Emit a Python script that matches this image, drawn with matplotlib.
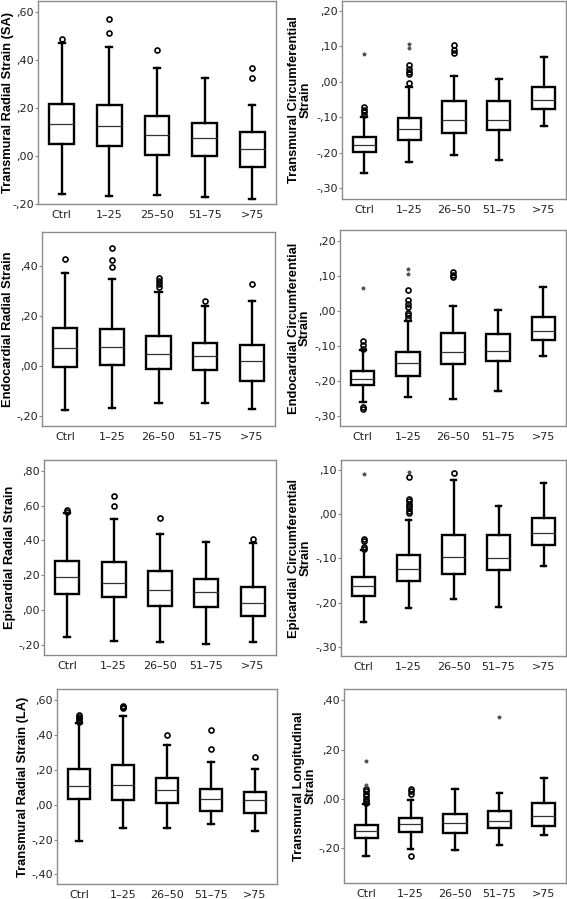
import matplotlib.pyplot as plt
from matplotlib.ticker import FuncFormatter

plt.rcParams['font.family'] = ['DejaVu Sans']

cats_sa = ["Ctrl", "1–25", "25–50", "51–75", ">75"]
cats = ["Ctrl", "1–25", "26–50", "51–75", ">75"]

# each group: (whisker low, Q1, median, Q3, whisker high)
trans_sa_box = [(-0.157, 0.049, 0.133, 0.218, 0.472), (-0.167, 0.044, 0.126, 0.215, 0.456),
                (-0.164, 0.004, 0.089, 0.169, 0.368), (-0.169, 0.001, 0.074, 0.136, 0.325),
                (-0.178, -0.044, 0.031, 0.100, 0.211)]
trans_sa_out = [[0.49], [0.571, 0.515], [0.444], [], [0.367, 0.326]]
trans_sa_ext = [[], [], [], [], []]

trans_circ_box = [(-0.257, -0.197, -0.178, -0.155, -0.099), (-0.227, -0.164, -0.133, -0.101, -0.014),
                  (-0.207, -0.144, -0.108, -0.053, 0.018), (-0.219, -0.136, -0.106, -0.055, 0.009),
                  (-0.123, -0.075, -0.051, -0.014, 0.070)]
trans_circ_out = [[-0.070, -0.078, -0.086, -0.093], [-0.003, 0.021, 0.028, 0.037, 0.049],
                  [0.082, 0.091, 0.103], [], []]
trans_circ_ext = [[0.080], [0.096, 0.108], [], [], []]

endo_rad_box = [(-0.177, -0.003, 0.074, 0.151, 0.372), (-0.167, 0.003, 0.076, 0.150, 0.350),
                (-0.146, -0.012, 0.047, 0.122, 0.295), (-0.147, -0.015, 0.042, 0.092, 0.241),
                (-0.173, -0.058, 0.021, 0.084, 0.262)]
endo_rad_out = [[0.428], [0.471, 0.425, 0.395], [0.354, 0.340, 0.328, 0.317], [0.262], [0.328]]
endo_rad_ext = [[], [], [], [], []]

endo_circ_box = [(-0.259, -0.211, -0.193, -0.171, -0.110), (-0.245, -0.184, -0.147, -0.118, -0.029),
                 (-0.251, -0.150, -0.118, -0.063, 0.013), (-0.227, -0.141, -0.114, -0.066, 0.003),
                 (-0.127, -0.082, -0.056, -0.018, 0.069)]
endo_circ_out = [[-0.086, -0.096, -0.107, -0.272, -0.279],
                 [0.060, 0.030, 0.021, 0.011, -0.005, -0.012, -0.020],
                 [0.110, 0.102, 0.096], [], []]
endo_circ_ext = [[0.064], [0.106, 0.118], [], [], []]

epi_rad_box = [(-0.153, 0.092, 0.189, 0.284, 0.559), (-0.176, 0.078, 0.156, 0.277, 0.521),
               (-0.179, 0.025, 0.118, 0.223, 0.435), (-0.195, 0.017, 0.103, 0.181, 0.393),
               (-0.179, -0.031, 0.044, 0.135, 0.384)]
epi_rad_out = [[0.574, 0.563], [0.656, 0.597], [0.529], [], [0.410]]
epi_rad_ext = [[], [], [], [], []]

epi_circ_box = [(-0.243, -0.185, -0.163, -0.142, -0.081), (-0.212, -0.151, -0.125, -0.092, -0.013),
                (-0.191, -0.136, -0.096, -0.048, 0.077), (-0.209, -0.126, -0.098, -0.046, 0.018),
                (-0.118, -0.069, -0.042, -0.008, 0.070)]
epi_circ_out = [[-0.055, -0.060, -0.073, -0.078],
                [0.084, 0.035, 0.030, 0.024, 0.019, 0.014, 0.008, 0.002],
                [0.094], [], []]
epi_circ_ext = [[0.092], [0.095], [], [], []]

trans_la_box = [(-0.207, 0.031, 0.107, 0.203, 0.468), (-0.136, 0.029, 0.111, 0.226, 0.510),
                (-0.136, 0.008, 0.084, 0.153, 0.340), (-0.109, -0.034, 0.031, 0.092, 0.247),
                (-0.153, -0.048, 0.025, 0.073, 0.207)]
trans_la_out = [[0.514, 0.505, 0.495, 0.484, 0.475], [0.568, 0.560, 0.553], [0.400],
                [0.430, 0.321], [0.275]]
trans_la_ext = [[], [], [], [], []]

long_box = [(-0.232, -0.156, -0.128, -0.104, -0.022), (-0.201, -0.133, -0.102, -0.078, -0.003),
            (-0.206, -0.139, -0.098, -0.059, 0.042), (-0.186, -0.117, -0.088, -0.049, 0.026),
            (-0.144, -0.108, -0.067, -0.015, 0.086)]
long_out = [[0.040, 0.031, 0.020, 0.011, 0.000, -0.009, -0.016], [0.040, 0.031, 0.020, -0.229],
            [], [], []]
long_ext = [[0.155, 0.058], [], [], [0.330], []]

# label, box, outliers, extremes, categories, ylim, yticks, axes rect (px: l, t, r, b), label x
panels = [
    ("Transmural Radial Strain (SA)", trans_sa_box, trans_sa_out, trans_sa_ext, cats_sa,
     (-0.2, 0.647), [-0.2, 0.0, 0.2, 0.4, 0.6], (38, 1, 276, 204), -0.126),
    ("Transmural Circumferential\nStrain", trans_circ_box, trans_circ_out, trans_circ_ext, cats,
     (-0.33, 0.228), [-0.3, -0.2, -0.1, 0.0, 0.1, 0.2], (342, 1, 566, 199), -0.19),
    ("Endocardial Radial Strain", endo_rad_box, endo_rad_out, endo_rad_ext, cats,
     (-0.24, 0.537), [-0.2, 0.0, 0.2, 0.4], (42, 232, 275, 426), -0.146),
    ("Endocardial Circumferential\nStrain", endo_circ_box, endo_circ_out, endo_circ_ext, cats,
     (-0.327, 0.23), [-0.3, -0.2, -0.1, 0.0, 0.1, 0.2], (340, 230, 566, 426), -0.18),
    ("Epicardial Radial Strain", epi_rad_box, epi_rad_out, epi_rad_ext, cats,
     (-0.256, 0.861), [-0.2, 0.0, 0.2, 0.4, 0.6, 0.8], (44, 460, 276, 655), -0.147),
    ("Epicardial Circumferential\nStrain", epi_circ_box, epi_circ_out, epi_circ_ext, cats,
     (-0.321, 0.123), [-0.3, -0.2, -0.1, 0.0, 0.1], (341, 460, 566, 656), -0.183),
    ("Transmural Radial Strain (LA)", trans_la_box, trans_la_out, trans_la_ext, cats,
     (-0.455, 0.663), [-0.4, -0.2, 0.0, 0.2, 0.4, 0.6], (57, 689, 277, 884), -0.155),
    ("Transmural Longitudinal\nStrain", long_box, long_out, long_ext, cats,
     (-0.34, 0.445), [-0.2, 0.0, 0.2, 0.4], (344, 689, 566, 883), -0.176),
]


def spss_fmt(v, pos):
    s = f"{abs(v):.2f}".lstrip("0").replace(".", ",")
    return ("-" if v < -1e-9 else "") + s


W, H = 567, 899
fig = plt.figure(figsize=(W / 100, H / 100), dpi=100)

for label, box, out, ext, labels, ylim, yticks, rect, lx in panels:
    l, t, r, b = rect
    ax = fig.add_axes([l / W, 1 - b / H, (r - l) / W, (b - t) / H])
    stats = []
    for i, (lo, q1, med, q3, hi) in enumerate(box):
        stats.append(dict(whislo=lo, q1=q1, med=med, q3=q3, whishi=hi, fliers=out[i]))
    ax.bxp(stats, positions=range(len(stats)), widths=0.52, capwidths=0.13, patch_artist=True,
           boxprops=dict(facecolor="white", edgecolor="black", linewidth=1.7),
           whiskerprops=dict(color="black", linewidth=1.7),
           capprops=dict(color="black", linewidth=1.7),
           medianprops=dict(color="#333333", linewidth=0.9),
           flierprops=dict(marker="o", markerfacecolor="none", markeredgecolor="black",
                           markersize=3.6, markeredgewidth=1.2))
    # extreme values (SPSS stars)
    for i, vals in enumerate(ext):
        ax.plot([i] * len(vals), vals, ls="none", marker="*", ms=2.6, color="#555555")

    ax.set_xlim(-0.5, len(stats) - 0.5)
    ax.set_ylim(*ylim)
    ax.set_yticks(yticks)
    ax.yaxis.set_major_formatter(FuncFormatter(spss_fmt))
    ax.set_xticks(range(len(stats)), labels)
    ax.tick_params(axis="x", length=0, pad=4.5, labelsize=8, labelcolor="#222222")
    ax.tick_params(axis="y", length=2.5, width=0.8, pad=0.5, color="#888888",
                   labelsize=8, labelcolor="#222222")
    for sp in ax.spines.values():
        sp.set_color("#8c8c8c")
        sp.set_linewidth(1.0)
    ax.set_ylabel(label, family=["Liberation Sans", "DejaVu Sans"], fontweight="bold",
                  fontsize=9.3, va="center", ha="center", multialignment="center",
                  linespacing=0.95)
    ax.yaxis.set_label_coords(lx, 0.5)

fig.savefig("out.png", dpi=100)
